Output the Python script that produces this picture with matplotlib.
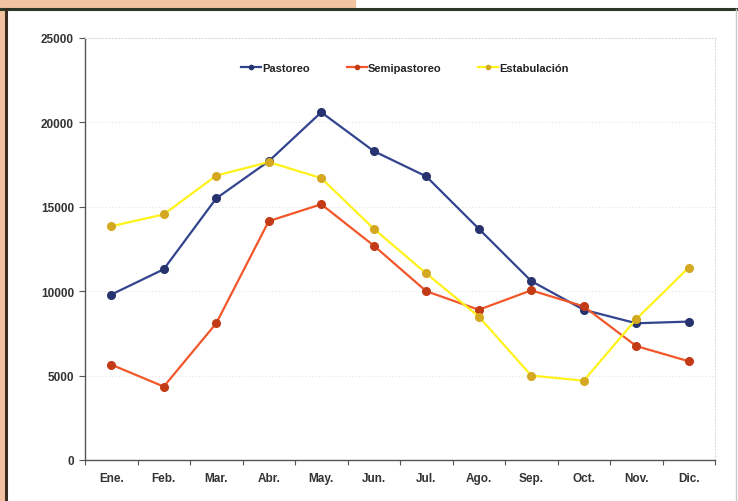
import matplotlib.pyplot as plt
from matplotlib.patches import Rectangle
from matplotlib.lines import Line2D
import numpy as np

meses = ['Ene.', 'Feb.', 'Mar.', 'Abr.', 'May.', 'Jun.', 'Jul.', 'Ago.',
         'Sep.', 'Oct.', 'Nov.', 'Dic.']
pastoreo = [9800, 11300, 15500, 17700, 20600, 18300, 16800, 13700,
            10600, 8900, 8100, 8200]
semipastoreo = [5650, 4350, 8100, 14150, 15150, 12700, 10000, 8900,
                10050, 9100, 6750, 5850]
estabulacion = [13850, 14550, 16850, 17650, 16700, 13700, 11050, 8500,
                5000, 4700, 8350, 11400]

plt.rcParams['font.family'] = ['Liberation Sans', 'DejaVu Sans']

fig = plt.figure(figsize=(7.38, 5.02), dpi=100)
W, H = 738.0, 502.0

# scanned page border
fig.patches.append(Rectangle((0, 1 - 8 / H), 355 / W, 8 / H, transform=fig.transFigure,
                             color='#f2c3a0', zorder=0))
fig.patches.append(Rectangle((0, 0), 5 / W, 1, transform=fig.transFigure,
                             color='#f2c3a0', zorder=0))
fig.add_artist(Line2D([0, 1], [1 - 9.5 / H, 1 - 9.5 / H], transform=fig.transFigure,
                      color='#2b3626', lw=2.2))
fig.add_artist(Line2D([6.5 / W, 6.5 / W], [0, 1 - 9.5 / H], transform=fig.transFigure,
                      color='#3a2c20', lw=2.2))
fig.add_artist(Line2D([735.5 / W, 735.5 / W], [0, 1 - 9.5 / H], transform=fig.transFigure,
                      color='#c8c8c8', lw=1.0))

ax = fig.add_axes([85 / W, 1 - 461 / H, 630 / W, 422 / H])
x = np.arange(len(meses))

series = [
    (pastoreo, 'Pastoreo', '#33448f', '#26336e'),
    (semipastoreo, 'Semipastoreo', '#f2572a', '#c23a16'),
    (estabulacion, 'Estabulación', '#fff21a', '#d4a820'),
]
for vals, lab, col, mcol in series:
    ax.plot(x, vals, color=col, lw=1.6, marker='o', ms=5.5,
            markerfacecolor=mcol, markeredgecolor=mcol, label=lab, zorder=3)

ax.set_xlim(-0.5, 11.5)
ax.set_ylim(0, 25000)
ax.set_yticks(np.arange(0, 25001, 5000))
ax.set_yticklabels([str(v) for v in range(0, 25001, 5000)])
ax.set_xticks(np.arange(-0.5, 12, 1))
ax.set_xticklabels([])
ax.set_xticks(x, minor=True)
ax.set_xticklabels(meses, minor=True)

ax.tick_params(axis='y', length=4, width=0.8, color='#555555', labelsize=8.5,
               labelcolor='#333333', pad=4)
ax.tick_params(axis='x', which='major', length=3.5, width=0.8, color='#555555')
ax.tick_params(axis='x', which='minor', length=0, labelsize=8.5,
               labelcolor='#333333', pad=9)
for t in ax.get_yticklabels() + ax.get_xticklabels(minor=True):
    t.set_fontweight('bold')

ax.grid(axis='y', color='#e4e4e4', lw=0.8, ls=(0, (1, 2)))
for s in ['left', 'bottom']:
    ax.spines[s].set_color('#555555')
    ax.spines[s].set_linewidth(1.0)
for s in ['top', 'right']:
    ax.spines[s].set_color('#dddddd')
    ax.spines[s].set_linewidth(0.8)
    ax.spines[s].set_linestyle((0, (1, 2)))

leg = ax.legend(loc='upper center', bbox_to_anchor=(0.508, 0.965), ncol=3, frameon=False,
                handlelength=1.8, handletextpad=0.1, columnspacing=3.3, markerscale=0.55,
                prop={'size': 8, 'weight': 'bold'})
for t in leg.get_texts():
    t.set_color('#222222')

fig.savefig('out.png', dpi=100)
